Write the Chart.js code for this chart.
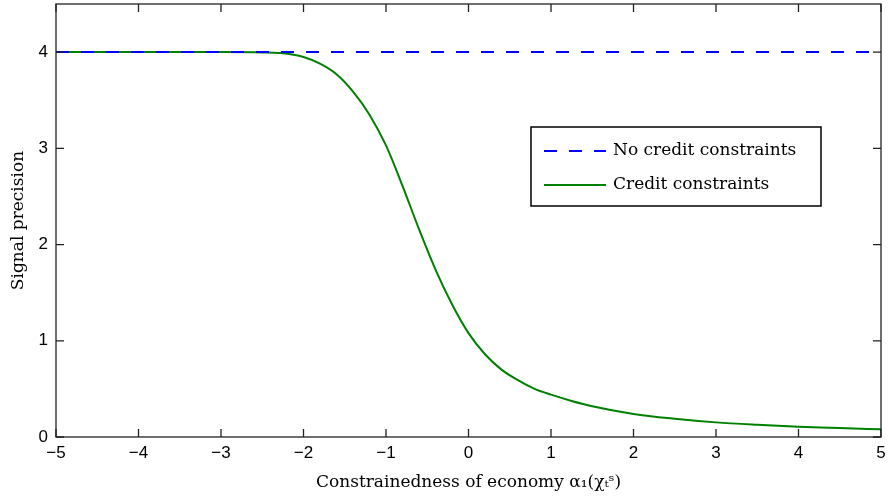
<!DOCTYPE html>
<html>
<head>
<meta charset="utf-8">
<script src="https://cdn.jsdelivr.net/npm/chart.js@4"></script>
<style>
  html, body { margin: 0; padding: 0; background: #fff; }
  #wrap { width: 889px; height: 500px; }
</style>
</head>
<body>
<div id="wrap"><canvas id="myChart"></canvas></div>
<script>
  const xValues = [-5, -4, -3, -2.5, -2.28, -2.0, -1.8, -1.6, -1.4, -1.2, -1.0, -0.8, -0.6, -0.4, -0.2, 0,
    0.2, 0.4, 0.6, 0.8, 1.0, 1.25, 1.5, 2, 2.5, 3, 3.5, 4, 4.5, 5]
  const creditValues = [4, 4, 4, 3.997, 3.99, 3.95, 3.88, 3.77, 3.59, 3.35, 3.03, 2.61, 2.16, 1.74, 1.38, 1.08,
    0.86, 0.70, 0.59, 0.50, 0.44, 0.375, 0.32, 0.24, 0.19, 0.152, 0.127, 0.107, 0.093, 0.08]
  const noCreditX = [-5, 5]
  const noCreditValues = [4, 4]

  const xTicks = [-5, -4, -3, -2, -1, 0, 1, 2, 3, 4, 5]
  const yTicks = [0, 1, 2, 3, 4]

  const serif = 'DejaVu Serif'
  const sans = 'Liberation Sans'

  const toPoints = (xs, ys) => xs.map((x, i) => ({ x: x, y: ys[i] }))
  const minus = v => String(v).replace('-', '\u2212')

  // box round the plot, inward ticks and the legend box inside the plot
  const frame = {
    id: 'frame',
    afterDraw(chart) {
      const c = chart.ctx
      const a = chart.chartArea
      const xs = chart.scales.x
      const ys = chart.scales.y
      c.save()
      c.strokeStyle = '#222'
      c.lineWidth = 1.3
      c.strokeRect(a.left, a.top, a.right - a.left, a.bottom - a.top)
      c.beginPath()
      xTicks.forEach(v => {
        const px = xs.getPixelForValue(v)
        c.moveTo(px, a.bottom); c.lineTo(px, a.bottom - 8)
        c.moveTo(px, a.top); c.lineTo(px, a.top + 8)
      })
      yTicks.forEach(v => {
        const py = ys.getPixelForValue(v)
        c.moveTo(a.left, py); c.lineTo(a.left + 8, py)
        c.moveTo(a.right, py); c.lineTo(a.right - 8, py)
      })
      c.stroke()

      // legend
      const bx = 531, by = 127, bw = 290, bh = 79
      c.fillStyle = '#fff'
      c.fillRect(bx, by, bw, bh)
      c.strokeStyle = '#000'
      c.lineWidth = 1.5
      c.strokeRect(bx, by, bw, bh)
      c.font = '17px "' + serif + '"'
      c.textBaseline = 'middle'
      chart.data.datasets.forEach((ds, i) => {
        const ly = by + 24 + i * 34
        c.beginPath()
        c.strokeStyle = ds.borderColor
        c.lineWidth = 2
        c.setLineDash(ds.borderDash || [])
        c.moveTo(bx + 13, ly); c.lineTo(bx + 75, ly)
        c.stroke()
        c.setLineDash([])
        c.fillStyle = '#000'
        c.fillText(ds.label, bx + 82, ly)
      })
      c.restore()
    }
  }

  const ctx = document.getElementById('myChart')

  new Chart(ctx, {
    type: 'line',
    data: {
      datasets: [{
        label: 'No credit constraints',
        data: toPoints(noCreditX, noCreditValues),
        borderColor: 'rgb(0, 0, 255)',
        backgroundColor: 'rgb(0, 0, 255)',
        borderDash: [13, 12],
        borderWidth: 2,
        pointRadius: 0
      },
      {
        label: 'Credit constraints',
        data: toPoints(xValues, creditValues),
        borderColor: 'rgb(0, 128, 0)',
        backgroundColor: 'rgb(0, 128, 0)',
        borderWidth: 2,
        pointRadius: 0,
        cubicInterpolationMode: 'monotone'
      }
      ]
    },
    options: {
      responsive: true,
      maintainAspectRatio: false,
      animation: false,
      layout: { padding: { top: 4, right: 8, left: 0, bottom: 0 } },
      plugins: {
        legend: { display: false },
        tooltip: { enabled: false }
      },
      scales: {
        x: {
          type: 'linear',
          min: -5,
          max: 5,
          grid: { display: false, drawTicks: false },
          border: { display: false },
          afterFit: s => { s.height = 63; s.paddingLeft = 0; s.paddingRight = 0 },
          ticks: {
            stepSize: 1,
            padding: 6,
            color: '#000',
            font: { family: sans, size: 17 },
            callback: v => minus(v)
          },
          title: {
            display: true,
            text: 'Constrainedness of economy \u03B1\u2081(\u03C7\u209C\u02E2)',
            color: '#000',
            font: { family: serif, size: 17 },
            padding: { top: 0, bottom: 7 }
          }
        },
        y: {
          min: 0,
          max: 4.5,
          grid: { display: false, drawTicks: false },
          border: { display: false },
          afterFit: s => { s.width = 56; s.paddingTop = 0; s.paddingBottom = 0 },
          afterBuildTicks: s => { s.ticks = s.ticks.filter(t => yTicks.includes(t.value)) },
          ticks: {
            stepSize: 1,
            padding: 8,
            color: '#000',
            font: { family: sans, size: 17 },
            callback: v => minus(v)
          },
          title: {
            display: true,
            text: 'Signal precision',
            color: '#000',
            font: { family: serif, size: 17 },
            padding: { top: 8, bottom: 0 }
          }
        }
      }
    },
    plugins: [frame]
  })
</script>
</body>
</html>
